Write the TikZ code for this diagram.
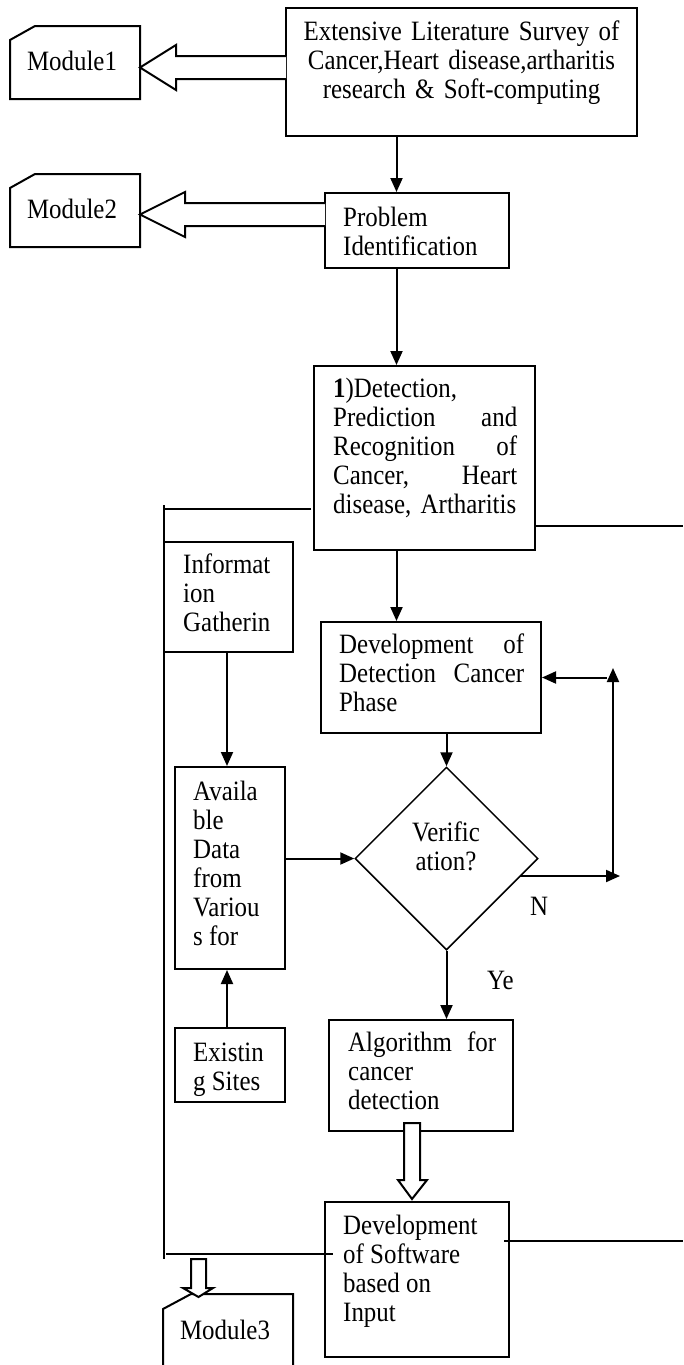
\documentclass[tikz,border=0pt]{standalone}
\usepackage{fontspec}
\setmainfont{Liberation Serif}[FakeStretch=0.89]
\usetikzlibrary{arrows.meta,shapes.geometric}
\newcommand\bx[5]{\node[box, minimum width={(#4)-(#2)}, minimum height={(#5)-(#3)}] (#1) at ({((#2)+(#4))/2},{((#3)+(#5))/2}) {};}
\begin{document}
\begin{tikzpicture}[x=1pt,y=-1pt,
  box/.style={draw, line width=2pt, inner sep=0pt},
  txt/.style={font=\fontsize{28}{29}\selectfont, inner sep=0pt, anchor=north west, align=left},
  lbl/.style={font=\fontsize{28}{29}\selectfont, inner sep=0pt, anchor=base},
  conn/.style={line width=2pt},
  arr/.style={line width=2pt, -{Triangle[width=12pt,length=14pt]}},
  fat/.style={line width=2pt, fill=white, line join=miter},
  modl/.style={line width=2pt, line join=miter},
]
\useasboundingbox (0,0) rectangle (683,1365);

% boxes
\bx{b1}{286}{8}{637}{136}
\bx{pi}{325}{193}{509}{268}
\bx{b3}{314}{366}{535}{550}
\bx{info}{164}{542}{293}{652}
\bx{dd}{321}{622}{541}{733}
\bx{av}{175}{767}{285}{969}
\bx{ex}{175}{1028}{285}{1102}
\bx{alg}{329}{1020}{513}{1131}
\bx{ds}{325}{1202}{509}{1357}
\node[draw, diamond, line width=1.5pt, minimum width=183pt, minimum height=183pt, inner sep=0pt] (dia) at (446.5,858.5) {};

% module shapes
\draw[modl] (10,40) -- (35,26) -- (140,26) -- (140,99) -- (10,99) -- cycle;
\draw[modl] (10,188) -- (35,174) -- (140,174) -- (140,247) -- (10,247) -- cycle;
\draw[modl] (163,1372) -- (163,1309) -- (191,1294) -- (293,1294) -- (293,1372);

% texts
\node[lbl] (m1t) at (72,70.7) {Module1};
\node[lbl] (m2t) at (72,218) {Module2};
\node[lbl] (m3t) at (225,1339) {Module3};
\node[txt, anchor=north, align=center, text width=345pt] (t1) at (461.5,20.2)
  {\strut Extensive Literature Survey of\\Cancer,Heart disease,artharitis\\research \& Soft-computing};
\node[txt] (tpi) at (343,205.7) {\strut Problem\\Identification};
\node[txt, text width=184pt] (tb3) at (333,376.7)
  {\strut\textbf{1})Detection,\\Prediction\hfill and\\Recognition\hfill of\\Cancer,\hfill Heart\\disease, Artharitis};
\node[txt] (tinfo) at (183,552.7) {\strut Informat\\ion\\Gatherin};
\node[txt, text width=185pt] (tdd) at (339,632.7)
  {\strut Development\hfill of\\Detection\hfill Cancer\\Phase};
\node[txt, anchor=north, align=center] (tdia) at (446,820.7) {\strut Verific\\ation?};
\node[txt] (tav) at (193,779.7) {\strut Availa\\ble\\Data\\from\\Variou\\s for};
\node[txt] (tex) at (193,1040.7) {\strut Existin\\g Sites};
\node[txt, text width=148pt] (talg) at (348,1030.7) {\strut Algorithm\hfill for\\cancer\\detection};
\node[txt] (tds) at (343,1213.7) {\strut Development\\of Software\\based on\\Input};
\node[lbl] (tn) at (539,915) {N};
\node[lbl, anchor=base west] (tye) at (487,989) {Ye};

% arrows
\coordinate (ax) at (396.5,0);
\coordinate (ay) at (227,0);
\draw[arr] (b1.south -| ax) -- (pi.north -| ax);
\draw[arr] (pi.south -| ax) -- (b3.north -| ax);
\draw[arr] (b3.south -| ax) -- (dd.north -| ax);
\draw[arr] (dia.north |- dd.south) -- (dia.north);
\draw[arr] (dia.south) -- (dia.south |- alg.north);
\draw[arr] (info.south -| ay) -- (av.north -| ay);
\draw[arr] (ex.north -| ay) -- (av.south -| ay);
\draw[arr] (dia.west -| av.east) -- (dia.west);

% feedback loop
\coordinate (ls) at (520,876);
\coordinate (le) at (620,876);
\coordinate (lv1) at (613,876);
\coordinate (lv2) at (613,668);
\coordinate (lh) at (607,677.5);
\draw[arr] (ls) -- (le);
\draw[arr] (lv1) -- (lv2);
\draw[arr] (lh) -- (dd.east);

% long lines
\coordinate (p1) at (311,509);
\coordinate (p2) at (164,509);
\coordinate (p3) at (164,505);
\coordinate (p4) at (164,1259);
\coordinate (p5) at (166,1254);
\coordinate (p6) at (333,1254);
\draw[conn] (p1) -- (p2);
\draw[conn] (p3) -- (p4);
\draw[conn] (p5) -- (p6);
\coordinate (r1) at (683,526);
\coordinate (r2) at (504,1241);
\coordinate (r3) at (683,1241);
\draw[conn] (b3.east |- r1) -- (r1);
\draw[conn] (r2) -- (r3);

% fat arrows
\draw[fat] (286,56) -- (176,56) -- (176,45) -- (140,67.5) -- (176,90) -- (176,79) -- (286,79);
\draw[fat] (325,203) -- (185,203) -- (185,192) -- (140,214.5) -- (185,237) -- (185,226) -- (325,226);
\draw[fat] (404,1123) -- (404,1180) -- (398,1180) -- (412,1199) -- (427,1180) -- (420,1180) -- (420,1123) -- cycle;
\draw[fat] (191,1259) -- (191,1288) -- (183,1288) -- (198.5,1297) -- (213,1288) -- (206,1288) -- (206,1259) -- cycle;
\end{tikzpicture}
\end{document}
